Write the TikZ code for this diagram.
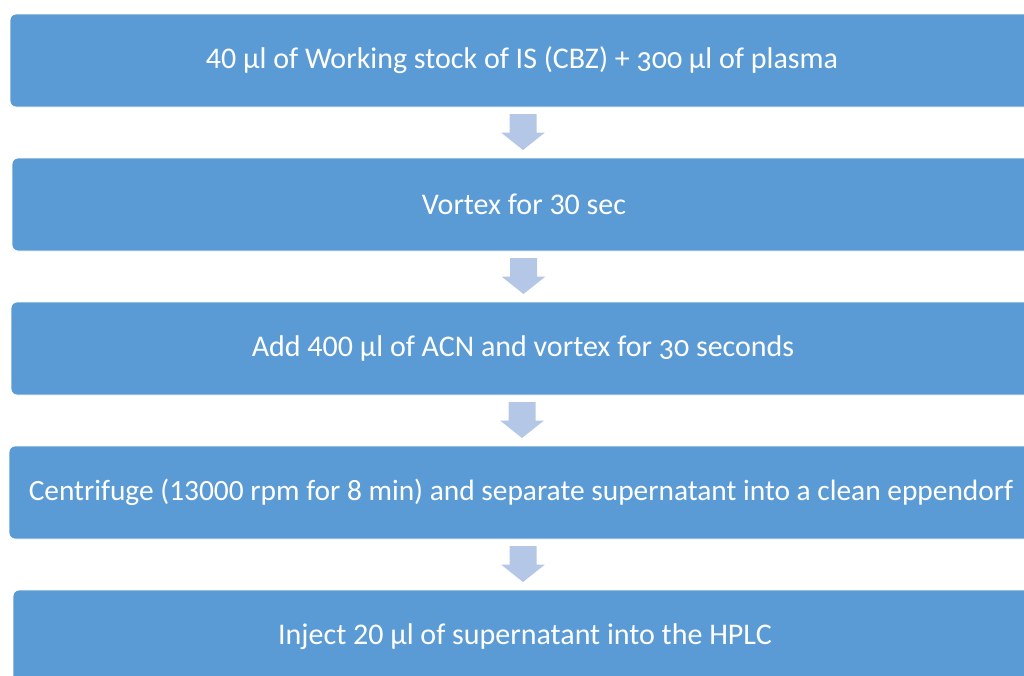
\documentclass[tikz,border=0pt]{standalone}
\usepackage{fontspec}
\setmainfont{Carlito}
\newfontfamily\oldnums[Numbers=OldStyle]{Carlito}
\usetikzlibrary{calc}
\definecolor{stepblue}{RGB}{91,155,213}
\definecolor{arrowblue}{RGB}{180,199,231}

\begin{document}
\begin{tikzpicture}[x=1pt, y=-1pt,
    stepbox/.style={fill=stepblue, draw=white, line width=0.8pt, rounded corners=6pt,
        minimum width=1024pt, minimum height=93pt, inner sep=0pt,
        text=white, font=\fontsize{30}{36}\selectfont}]
    \useasboundingbox (0,0) rectangle (1024,675);

    \node[stepbox] (s1) at (522,60.5) {40 µl of Working stock of IS (CBZ) + {\oldnums 300} µl of plasma};
    \node[stepbox] (s2) at (524,204.5) {Vortex for 30 sec};
    \node[stepbox] (s3) at (523,348.5) {Add 400 µl of ACN and vortex for {\oldnums 30} seconds};
    \node[stepbox, font=\fontsize{29.4}{35}\selectfont] (s4) at (521,492.5) {Centrifuge (13000 rpm for 8 min) and separate supernatant into a clean eppendorf};
    \node[stepbox] (s5) at (525,636.5) {Inject 20 µl of supernatant into the HPLC};

    % block arrows between consecutive steps
    \foreach \a/\b in {s1/s2, s2/s3, s3/s4, s4/s5} {
        \coordinate (m) at ($(\a.south)!0.5!(\b.north)$);
        \fill[arrowblue] ($(m)+(-13.5,-18.5)$) -- ++(27,0) -- ++(0,18.5) -- ++(8.5,0)
            -- ($(m)+(0,17.5)$) -- ($(m)+(-22,0)$) -- ++(8.5,0) -- cycle;
    }
\end{tikzpicture}
\end{document}
